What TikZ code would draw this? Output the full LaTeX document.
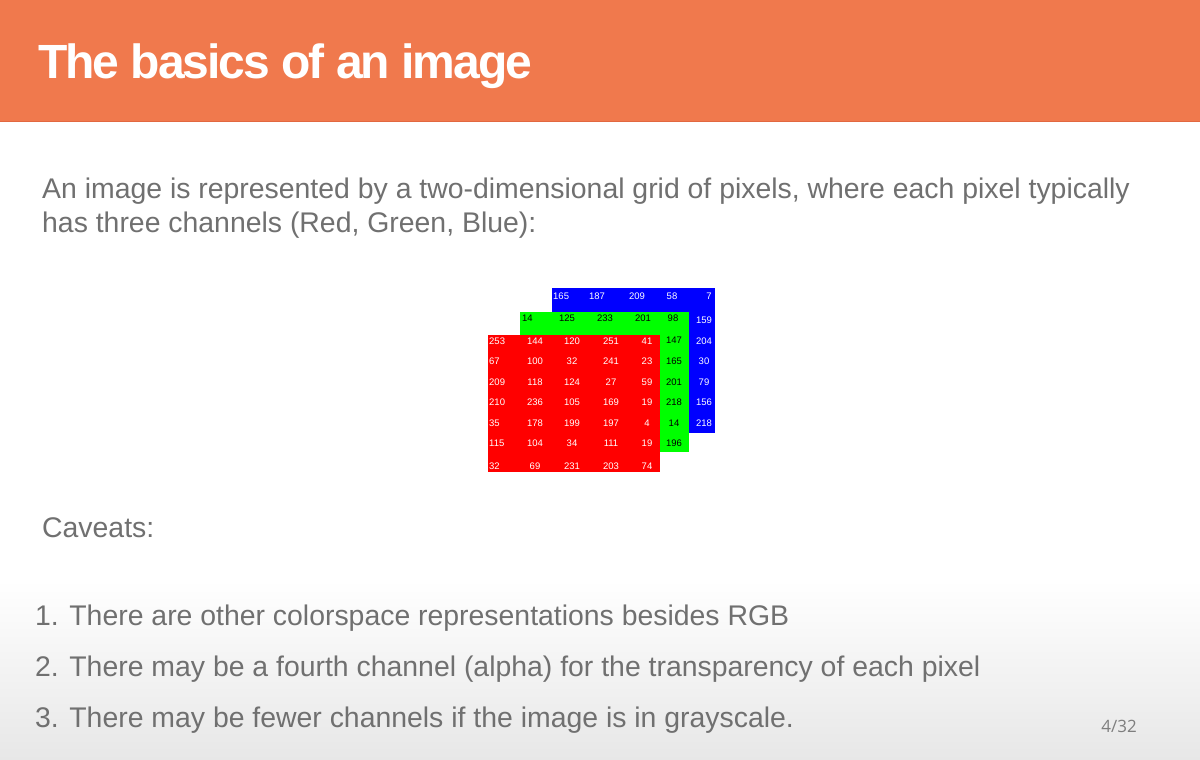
\documentclass[tikz,border=0pt]{standalone}
\usepackage{fontspec}
\setmainfont{Liberation Sans}
\newfontfamily\pagefont{Open Sans}
\definecolor{header}{RGB}{240,121,77}
\definecolor{headline}{RGB}{226,104,64}
\definecolor{bodygray}{RGB}{112,112,112}
\definecolor{footgray}{RGB}{231,231,231}
\definecolor{chred}{RGB}{255,0,0}
\definecolor{chgreen}{RGB}{0,255,0}
\definecolor{chblue}{RGB}{0,0,255}
\tikzset{
  body/.style={anchor=base west, inner sep=0pt, text=bodygray, font=\fontsize{28.4}{31}\selectfont},
  val/.style={inner sep=0pt, font=\fontsize{9.5}{9.5}\selectfont},
}
\begin{document}
\begin{tikzpicture}[x=1pt, y=-1pt]
\useasboundingbox (0,0) rectangle (1200,760);
\fill[white] (0,0) rectangle (1200,760);
\shade[top color=white, bottom color=footgray] (0,580) rectangle (1200,760);
\fill[header] (0,0) rectangle (1200,122);
\draw[headline, line width=1pt] (0,121.5)--(1200,121.5);
\node[anchor=base west, inner sep=0pt, text=white,
  font=\bfseries\fontsize{48}{48}\selectfont\addfontfeature{LetterSpace=-4.2}] (title) at (38,78) {The basics of an image};
\node[body] (line1) at (42,198) {An image is represented by a two-dimensional grid of pixels, where each pixel typically};
\node[body] (line2) at (42,232) {has three channels (Red, Green, Blue):};
% blue channel
\begin{scope}[shift={(552,291)}]
\fill[chblue] (0,-3) rectangle (163,142);
\foreach \v [count=\c] in {165,187,209,58,7} {
  \pgfmathsetmacro\cx{{1,45,85,120,157}[\c-1]}
  \ifnum\c=1 \def\anc{west}\else\def\anc{center}\fi
  \node[val, text=white, anchor=\anc] (blue-1-\c) at (\cx,5) {\v};
}
\foreach \v [count=\r from 2] in {159,204,30,79,156,218} {
  \pgfmathsetmacro\cy{{6,29,50,70,91,111,132}[\r-1]}
  \node[val, text=white] (blue-\r-5) at (152,\cy) {\v};
}
\end{scope}
% green channel
\begin{scope}[shift={(520,312)}]
\fill[chgreen] (0,0) rectangle (169,140);
\foreach \v [count=\c] in {14,125,233,201,98} {
  \pgfmathsetmacro\cx{{2,47,85,123,153}[\c-1]}
  \ifnum\c=1 \def\anc{west}\else\def\anc{center}\fi
  \node[val, text=black, anchor=\anc] (green-1-\c) at (\cx,6) {\v};
}
\foreach \v [count=\r from 2] in {147,165,201,218,14,196} {
  \pgfmathsetmacro\cy{{6,28,49,70,90,111,131}[\r-1]}
  \node[val, text=black] (green-\r-5) at (154,\cy) {\v};
}
\end{scope}
% red channel
\begin{scope}[shift={(488,335)}]
\fill[chred] (0,0) rectangle (172,137);
\foreach \row [count=\r] in {{253,144,120,251,41},{67,100,32,241,23},{209,118,124,27,59},
    {210,236,105,169,19},{35,178,199,197,4},{115,104,34,111,19},{32,69,231,203,74}} {
  \foreach \v [count=\c] in \row {
    \pgfmathsetmacro\cx{{1,47,84,123,159}[\c-1]}
    \pgfmathsetmacro\cy{{6,26,47,67,88,108,131}[\r-1]}
    \ifnum\c=1 \def\anc{west}\else\def\anc{center}\fi
    \node[val, text=white, anchor=\anc] (red-\r-\c) at (\cx,\cy) {\v};
  }
}
\end{scope}
\node[body] (caveats) at (42,537) {Caveats:};
\node[body] (item1) at (35,625) {1. There are other colorspace representations besides RGB};
\node[body] (item2) at (35,676) {2. There may be a fourth channel (alpha) for the transparency of each pixel};
\node[body] (item3) at (35,727) {3. There may be fewer channels if the image is in grayscale.};
\node[anchor=base east, inner sep=0pt, text=bodygray!90, font=\pagefont\fontsize{17}{17}\selectfont] (page) at (1137,732) {4/32};
\end{tikzpicture}
\end{document}
